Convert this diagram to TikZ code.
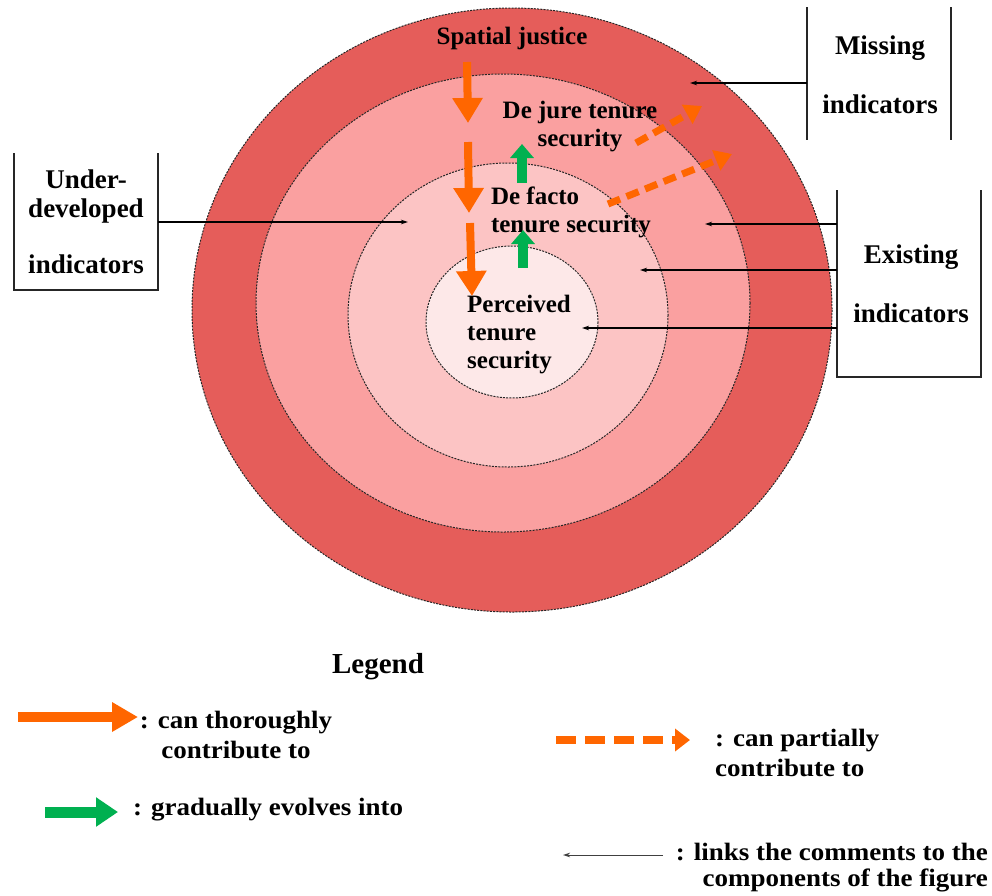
\documentclass[tikz,border=0pt]{standalone}
\usepackage{fontspec}
\setmainfont{Liberation Serif}
\newfontfamily\legfont{Liberation Serif}[FakeStretch=1.08]
\usetikzlibrary{arrows.meta}
\definecolor{ringOuter}{RGB}{229,93,90}
\definecolor{ringSecond}{RGB}{250,160,160}
\definecolor{ringThird}{RGB}{252,196,196}
\definecolor{ringInner}{RGB}{253,232,232}
\definecolor{arrOrange}{RGB}{255,102,0}
\definecolor{arrGreen}{RGB}{0,176,80}
\begin{document}
\begin{tikzpicture}[x=1pt,y=-1pt,
  ring/.style={draw=black!85, line width=1pt, dash pattern=on 2pt off 1.2pt},
  lbl/.style={font=\bfseries\fontsize{25}{28}\selectfont, inner sep=0pt, align=center},
  boxlbl/.style={font=\bfseries\fontsize{27}{28.5}\selectfont, inner sep=0pt, align=center},
  leg/.style={font=\legfont\bfseries\fontsize{25}{30}\selectfont, inner sep=0pt},
  frame/.style={draw=black!85, line width=1.2pt},
  link/.style={draw=black, line width=1.2pt, -{Stealth[length=7pt,width=4.5pt]}},
  contrib/.style={draw=arrOrange, line width=8pt, -{Triangle[length=25pt,width=29pt]}},
  evolve/.style={draw=arrGreen, line width=10pt, -{Triangle[length=14pt,width=23pt]}},
  partial/.style={draw=arrOrange, line width=7pt, dash pattern=on 13pt off 7pt, -{Triangle[length=17pt,width=21pt]}},
]
\useasboundingbox (0,0) rectangle (992,895);
\fill[white] (0,0) rectangle (992,895);

% nested rings
\filldraw[fill=ringOuter, ring] (512,310) ellipse [x radius=320, y radius=302];
\filldraw[fill=ringSecond, ring] (503,303) ellipse [x radius=247, y radius=229];
\filldraw[fill=ringThird, ring] (508,315) ellipse [x radius=160, y radius=152];
\filldraw[fill=ringInner, ring] (512,322) ellipse [x radius=86, y radius=76];

% ring labels
\node[lbl] (spatial) at (512,38) {Spatial justice};
\node[lbl] (dejure) at (580,127) {De jure tenure\\security};
\node[lbl, align=left] (defacto) at (571,212) {De facto\\tenure security};
\node[lbl, align=left] (perceived) at (519,335) {Perceived\\tenure\\security};

% thorough contributions
\coordinate (o1s) at (467,62);  \coordinate (o1e) at (468,123);
\coordinate (o2s) at (468,142); \coordinate (o2e) at (469,213);
\coordinate (o3s) at (470,223); \coordinate (o3e) at (472,296);
\draw[contrib] (o1s) -- (o1e);
\draw[contrib] (o2s) -- (o2e);
\draw[contrib] (o3s) -- (o3e);

% gradual evolution
\coordinate (g1s) at (522,183); \coordinate (g1e) at (522,144);
\coordinate (g2s) at (523,268); \coordinate (g2e) at (523,230);
\draw[evolve] (g1s) -- (g1e);
\draw[evolve] (g2s) -- (g2e);

% partial contributions
\coordinate (p1s) at (636,143); \coordinate (p1e) at (702,106);
\coordinate (p2s) at (608,204); \coordinate (p2e) at (732,154);
\draw[partial] (p1s) -- (p1e);
\draw[partial] (p2s) -- (p2e);

% comment: under-developed indicators
\node[boxlbl] (under) at (86,222) {Under-\\developed\\[28pt]indicators};
\draw[frame] (14,153) -- (14,290) -- (158,290) -- (158,153);
\coordinate (underA) at (158,222); \coordinate (underT) at (408,222);
\draw[link] (underA) -- (underT);

% comment: missing indicators
\node[boxlbl] (missing) at (880,75) {Missing\\[31pt]indicators};
\draw[frame] (807,7) -- (807,140);
\draw[frame] (951,7) -- (951,140);
\coordinate (missA) at (807,83); \coordinate (missT) at (690,83);
\draw[link] (missA) -- (missT);

% comment: existing indicators
\node[boxlbl] (existing) at (911,284) {Existing\\[30pt]indicators};
\draw[frame] (837,190) -- (837,377) -- (981,377) -- (981,190);
\coordinate (ex1A) at (837,224); \coordinate (ex1T) at (705,224);
\coordinate (ex2A) at (837,270); \coordinate (ex2T) at (640,270);
\coordinate (ex3A) at (837,328); \coordinate (ex3T) at (582,328);
\draw[link] (ex1A) -- (ex1T);
\draw[link] (ex2A) -- (ex2T);
\draw[link] (ex3A) -- (ex3T);

% legend
\node[inner sep=0pt, font=\bfseries\fontsize{29}{32}\selectfont] (legend) at (378,667) {Legend};

\coordinate (l1s) at (18,717); \coordinate (l1e) at (138,717);
\draw[draw=arrOrange, line width=10pt, -{Triangle[length=26pt,width=28pt]}] (l1s) -- (l1e);
\node[leg, align=center] (l1t) at (236,735) {: can thoroughly\\contribute to};

\coordinate (l2s) at (556,740); \coordinate (l2e) at (690,740);
\draw[draw=arrOrange, line width=8pt, dash pattern=on 20pt off 9pt, -{Triangle[length=15pt,width=22pt]}] (l2s) -- (l2e);
\node[leg, align=left, anchor=west] (l2t) at (715,753) {: can partially\\contribute to};

\coordinate (l3s) at (45,812); \coordinate (l3e) at (118,812);
\draw[draw=arrGreen, line width=11pt, -{Triangle[length=22pt,width=28pt]}] (l3s) -- (l3e);
\node[leg, anchor=west] (l3t) at (133,810) {: gradually evolves into};

\coordinate (l4s) at (663,855); \coordinate (l4e) at (563,855);
\draw[link, draw=black!75, line width=1pt] (l4s) -- (l4e);
\node[leg, align=right, anchor=east, font=\legfont\bfseries\fontsize{25}{26}\selectfont] (l4t) at (988,868) {: links the comments to the\\components of the figure};
\end{tikzpicture}
\end{document}
